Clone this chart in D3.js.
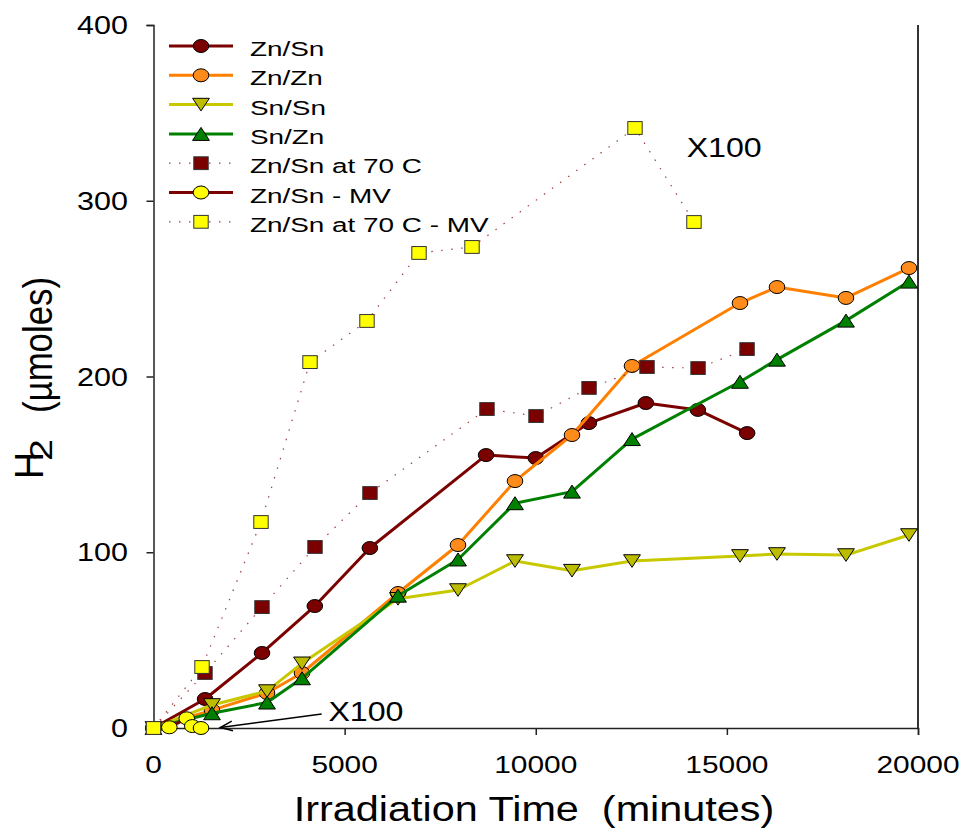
<!DOCTYPE html>
<html><head><meta charset="utf-8">
<script src="https://cdn.jsdelivr.net/npm/d3@7"></script>
<style>body{margin:0;background:#fff}svg{display:block}text{white-space:pre}</style>
</head><body><svg id="c" width="964" height="830"></svg>
<script>
// ---- data ----
const xTicks = [0, 5000, 10000, 15000, 20000];
const yTicks = [0, 100, 200, 300, 400];

const znSnX = [0, 1350, 2840, 4220, 5660, 8700, 10000, 11390, 12880, 14240, 15530];
const znSnY = [0, 16.5, 42.7, 69.4, 102.4, 155.3, 153.6, 173.5, 184.9, 181, 167.8];

const znZnX = [0, 1530, 2970, 3885, 6396, 7966, 9457, 10948, 12518, 15343, 16311, 18116, 19764];
const znZnY = [0, 10.2, 19.9, 31.3, 76.8, 104.1, 140.5, 166.7, 206, 241.8, 250.9, 244.7, 261.7];

const snSnX = [0, 1530, 2970, 3885, 6396, 7966, 9457, 10948, 12518, 15343, 16311, 18116, 19764];
const snSnY = [0, 13.1, 21, 36.8, 73.5, 78.5, 95, 89.5, 95, 97.9, 99, 98.4, 109.8];

const snZnX = [0, 1530, 2970, 3885, 6396, 7966, 9457, 10948, 12518, 15343, 16311, 18116, 19764];
const snZnY = [0, 8.4, 14.5, 28.3, 75.3, 95.9, 127.9, 134.5, 164.4, 197, 209.6, 231.8, 254];

const znSn70X = [0, 1347, 2838, 4225, 5663, 8724, 10007, 11394, 12911, 14246, 15528];
const znSn70Y = [0, 31.3, 68.8, 103, 133.7, 181.5, 177.5, 193.5, 205.4, 204.8, 215.6];

const znSnMVX = [0, 414, 869, 1015, 1243];
const znSnMVY = [0, 0.4, 5.5, 1.1, 0];

const znSn70MVX = [0, 1269, 2812, 4094, 5585, 6946, 8332, 12596, 14139];
const znSn70MVY = [0, 34.7, 117.2, 208.2, 231.6, 270.3, 273.7, 341.4, 287.9];

const seriesNames = ["Zn/Sn", "Zn/Zn", "Sn/Sn", "Sn/Zn", "Zn/Sn at 70 C", "Zn/Sn - MV", "Zn/Sn at 70 C - MV"];
const xTitle = "Irradiation Time  (minutes)";
const annotTop = {x: 14000, y: 328, text: "X100"};
const annotBottom = {x: 4550, y: 7, text: "X100", ax0: 4400, ay0: 8, ax1: 1750, ay1: 0.3};

// ---- styles ----
const series = [
  {name: seriesNames[0], xs: znSnX, ys: znSnY, line: "#7b0000", fill: "#7b0000", shape: "circle", dotted: false},
  {name: seriesNames[1], xs: znZnX, ys: znZnY, line: "#ff8000", fill: "#ff8c1a", shape: "circle", dotted: false},
  {name: seriesNames[2], xs: snSnX, ys: snSnY, line: "#c8c800", fill: "#bdbd00", shape: "down", dotted: false},
  {name: seriesNames[3], xs: snZnX, ys: snZnY, line: "#008000", fill: "#008000", shape: "up", dotted: false},
  {name: seriesNames[4], xs: znSn70X, ys: znSn70Y, line: "#800000", fill: "#7b0000", shape: "square", dotted: true},
  {name: seriesNames[5], xs: znSnMVX, ys: znSnMVY, line: "#7b0000", fill: "#ffff00", shape: "circle", dotted: false},
  {name: seriesNames[6], xs: znSn70MVX, ys: znSn70MVY, line: "#800000", fill: "#ffff00", shape: "square", dotted: true}
];

const svg = d3.select("#c");
const FONT = "'Liberation Sans', Arial, Helvetica, sans-serif";
const x = d3.scaleLinear().domain([0, 20000]).range([153.5, 918]);
const y = d3.scaleLinear().domain([0, 400]).range([728, 25]);

function txt(g, s, px, py, size, sx, anchor) {
  return g.append("text")
    .attr("transform", `translate(${px},${py}) scale(${sx},1)`)
    .attr("text-anchor", anchor || "start")
    .attr("font-family", FONT).attr("font-size", size).attr("fill", "#000")
    .text(s);
}

function marker(g, shape, cx, cy, fill) {
  if (shape === "circle") {
    g.append("ellipse").attr("cx", cx).attr("cy", cy).attr("rx", 7.8).attr("ry", 6.5)
      .attr("fill", fill).attr("stroke", "#000").attr("stroke-width", 1);
  } else if (shape === "square") {
    g.append("rect").attr("x", cx - 7.2).attr("y", cy - 6.4).attr("width", 14.4).attr("height", 12.8)
      .attr("fill", fill).attr("stroke", "#333").attr("stroke-width", 1);
  } else if (shape === "up") {
    const w = 8.4, h = 6.5;
    g.append("path").attr("d", `M${cx},${cy - h}L${cx + w},${cy + h}L${cx - w},${cy + h}Z`)
      .attr("fill", fill).attr("stroke", "#000").attr("stroke-width", 1);
  } else if (shape === "down") {
    const w = 8.4, h = 6.3;
    g.append("path").attr("d", `M${cx - w},${cy - h}L${cx + w},${cy - h}L${cx},${cy + h}Z`)
      .attr("fill", fill).attr("stroke", "#000").attr("stroke-width", 1);
  }
}

// ---- axes ----
const axG = svg.append("g");
const xAxis = d3.axisBottom(x).tickValues(xTicks).tickSize(7).tickFormat("");
const yAxis = d3.axisLeft(y).tickValues(yTicks).tickSize(7).tickFormat("");
axG.append("g").attr("transform", "translate(0,728)").call(xAxis)
  .call(g => g.select(".domain").attr("stroke", "#222").attr("stroke-width", 1.5))
  .call(g => g.selectAll(".tick line").attr("stroke", "#222").attr("stroke-width", 1.5));
axG.append("g").attr("transform", "translate(153.5,0)").call(yAxis)
  .call(g => g.select(".domain").attr("stroke", "#222").attr("stroke-width", 1.5))
  .call(g => g.selectAll(".tick line").attr("stroke", "#222").attr("stroke-width", 1.5));
axG.append("line").attr("x1", x(20000)).attr("x2", x(20000)).attr("y1", y(400)).attr("y2", y(0))
  .attr("stroke", "#333").attr("stroke-width", 2);

xTicks.forEach(v => txt(svg, String(v), x(v), 773, 23, 1.3, "middle"));
yTicks.forEach(v => txt(svg, String(v), 128, y(v) + 9, 25, 1.22, "end"));

txt(svg, xTitle, 534, 821, 36, 1.15, "middle");

// y title (rotated)
const yt = svg.append("g").attr("transform", "rotate(-90)");
yt.append("text").attr("x", -479).attr("y", 43).attr("font-family", FONT).attr("font-size", 41)
  .attr("textLength", 27).attr("lengthAdjust", "spacingAndGlyphs").text("H");
yt.append("text").attr("x", -461).attr("y", 52).attr("font-family", FONT).attr("font-size", 31)
  .attr("textLength", 22).attr("lengthAdjust", "spacingAndGlyphs").text("2");
yt.append("text").attr("x", -413).attr("y", 52).attr("font-family", FONT).attr("font-size", 40)
  .attr("textLength", 136).attr("lengthAdjust", "spacingAndGlyphs").text("(µmoles)");

// ---- series ----
const plotG = svg.append("g");
series.forEach(s => {
  const pts = s.xs.map((v, i) => [v, s.ys[i]]);
  const line = d3.line().x(d => x(d[0])).y(d => y(d[1]));
  const p = plotG.append("path").attr("d", line(pts)).attr("fill", "none").attr("stroke", s.line);
  if (s.dotted) p.attr("stroke-width", 1.2).attr("stroke-dasharray", "1.5,8.5").attr("opacity", 0.75);
  else p.attr("stroke-width", 3).attr("stroke-linejoin", "round");
  const mg = plotG.append("g");
  pts.forEach(d => marker(mg, s.shape, x(d[0]), y(d[1]), s.fill));
});

// ---- annotations ----
txt(svg, annotTop.text, x(annotTop.x) - 2, y(annotTop.y) + 5, 27, 1.19, "start");
txt(svg, annotBottom.text, x(annotBottom.x) + 1, y(annotBottom.y) + 5, 27, 1.19, "start");
const ax0 = x(annotBottom.ax0), ay0 = y(annotBottom.ay0), ax1 = x(annotBottom.ax1), ay1 = y(annotBottom.ay1);
svg.append("line").attr("x1", ax0).attr("y1", ay0).attr("x2", ax1).attr("y2", ay1)
  .attr("stroke", "#000").attr("stroke-width", 1.5);
{
  const ang = Math.atan2(ay0 - ay1, ax0 - ax1), L = 13, sp = 0.38;
  const p1 = [ax1 + L * Math.cos(ang + sp), ay1 + L * Math.sin(ang + sp)];
  const p2 = [ax1 + L * Math.cos(ang - sp), ay1 + L * Math.sin(ang - sp)];
  svg.append("path").attr("d", `M${p1[0]},${p1[1]}L${ax1},${ay1}L${p2[0]},${p2[1]}`)
    .attr("fill", "none").attr("stroke", "#000").attr("stroke-width", 1.5);
}

// ---- legend ----
const lg = svg.append("g");
const rowY = [46, 75.3, 104.6, 133.9, 163.2, 192.5, 221.8];
series.forEach((s, i) => {
  const ry = rowY[i];
  const l = lg.append("line").attr("x1", 169).attr("x2", 233).attr("y1", ry).attr("y2", ry).attr("stroke", s.line);
  if (s.dotted) l.attr("stroke-width", 1.2).attr("stroke-dasharray", "1.5,8.5").attr("opacity", 0.75);
  else l.attr("stroke-width", 3);
  marker(lg, s.shape, 201, ry, s.fill);
  txt(lg, s.name, 250, ry + 10, 19.5, 1.43, "start");
});
</script></body></html>
